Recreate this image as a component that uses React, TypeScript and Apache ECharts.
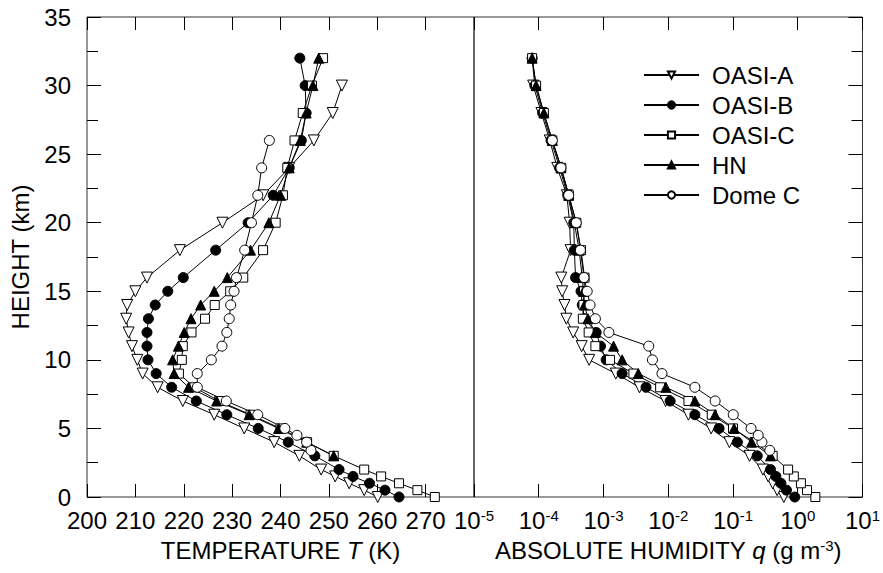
import React, { useEffect, useRef } from "react";
import * as echarts from "echarts";

// Heights (km)
const hOASI = [0, 0.5, 1, 1.5, 2, 3, 4, 5, 6, 7, 8, 9, 10, 11, 12, 13, 14, 15, 16, 18, 20, 22, 24, 26, 28, 30, 32];
const hOASIA = [0, 0.5, 1, 1.5, 2, 3, 4, 5, 6, 7, 8, 9, 10, 11, 12, 13, 14, 15, 16, 18, 20, 22, 24, 26, 28, 30];
const hHN = [3, 4, 5, 6, 7, 8, 9, 10, 11, 12, 13, 14, 15, 16, 18, 20, 22, 24, 26, 28, 30, 32];
const hDome = [3.4, 4, 4.5, 5, 6, 7, 8, 9, 10, 11, 12, 13, 14, 15, 16, 18, 20, 22, 24, 26];

// Temperature (K)
const tOASIA = [260.1, 257.3, 254.2, 251.3, 248.4, 243.9, 238.7, 232.5, 226.3, 219.8, 214.6, 211.5, 210.4, 209.3, 208.6, 208.1, 208.3, 210.0, 212.4, 219.2, 228.0, 236.4, 241.8, 246.9, 250.8, 252.7];
const tOASIB = [264.5, 261.6, 258.4, 255.0, 252.1, 247.1, 241.6, 235.4, 228.9, 222.6, 217.5, 214.3, 212.6, 212.4, 212.4, 212.7, 214.1, 216.7, 219.9, 226.6, 233.3, 238.5, 241.8, 244.3, 245.3, 245.1, 244.0];
const tOASIC = [271.9, 268.3, 264.5, 260.8, 257.3, 251.0, 245.5, 240.0, 233.8, 227.3, 222.2, 219.0, 219.6, 219.8, 221.6, 224.4, 226.4, 229.6, 232.3, 236.4, 239.0, 240.5, 241.4, 242.9, 244.6, 246.5, 248.8];
const tHN = [251.0, 245.4, 239.6, 233.5, 226.8, 221.0, 218.0, 217.7, 218.9, 220.1, 221.5, 223.5, 226.3, 229.0, 233.8, 237.6, 240.0, 241.8, 244.1, 245.3, 246.7, 247.9];
const tDome = [246.3, 245.4, 243.4, 240.9, 235.3, 228.8, 222.8, 222.8, 225.7, 227.9, 228.9, 229.4, 229.7, 230.4, 230.9, 232.6, 234.0, 235.3, 236.1, 237.7];

// Absolute humidity (g m^-3)
const qOASIA = [0.61, 0.48, 0.41, 0.35, 0.29, 0.18, 0.088, 0.046, 0.0205, 0.0091, 0.0036, 0.00155, 6.0e-4, 4.6e-4, 3.4e-4, 2.67e-4, 2.5e-4, 2.3e-4, 2.23e-4, 3.1e-4, 3.0e-4, 2.72e-4, 1.93e-4, 1.48e-4, 1.1e-4, 8.2e-5];
const qOASIB = [0.9, 0.67, 0.55, 0.46, 0.38, 0.237, 0.117, 0.061, 0.0258, 0.0107, 0.00454, 0.00194, 0.0011, 9.0e-4, 7.7e-4, 5.1e-4, 4.7e-4, 4.5e-4, 3.7e-4, 3.55e-4, 3.47e-4, 2.8e-4, 2.1e-4, 1.55e-4, 1.15e-4, 8.7e-5, 7.9e-5];
const qOASIC = [1.87, 1.39, 1.12, 0.87, 0.71, 0.41, 0.214, 0.1, 0.047, 0.0205, 0.0075, 0.0029, 0.00126, 7.5e-4, 5.9e-4, 4.8e-4, 4.9e-4, 5.0e-4, 5.1e-4, 4.5e-4, 3.8e-4, 2.92e-4, 2.23e-4, 1.62e-4, 1.2e-4, 9.1e-5, 7.9e-5];
const qHN = [0.38, 0.194, 0.104, 0.053, 0.0258, 0.0092, 0.00345, 0.00194, 0.00143, 7.5e-4, 5.75e-4, 5.1e-4, 4.9e-4, 4.7e-4, 4.2e-4, 3.55e-4, 2.9e-4, 2.2e-4, 1.62e-4, 1.2e-4, 9.1e-5, 7.9e-5];
const qDome = [0.37, 0.28, 0.245, 0.19, 0.101, 0.053, 0.0258, 0.008, 0.0057, 0.005, 0.00121, 7.5e-4, 6.2e-4, 5.6e-4, 5.0e-4, 4.4e-4, 3.8e-4, 2.9e-4, 2.2e-4, 1.62e-4];

const seriesNames = ["OASI-A", "OASI-B", "OASI-C", "HN", "Dome C"];
const tempTicks = [200, 210, 220, 230, 240, 250, 260, 270, 280];

const FONT = "'Liberation Sans', Arial, Helvetica, sans-serif";

const styles: Record<string, any> = {
  "OASI-A": { symbol: "triangle", symbolRotate: 180, symbolSize: 11, fill: "#fff" },
  "OASI-B": { symbol: "circle", symbolRotate: 0, symbolSize: 10, fill: "#000" },
  "OASI-C": { symbol: "rect", symbolRotate: 0, symbolSize: 9, fill: "#fff" },
  HN: { symbol: "triangle", symbolRotate: 0, symbolSize: 10, fill: "#000" },
  "Dome C": { symbol: "circle", symbolRotate: 0, symbolSize: 10, fill: "#fff" },
};

function pairs(xs: number[], hs: number[]) {
  return xs.map((x, i) => [x, hs[i]]);
}

function mk(name: string, data: number[][], idx: number) {
  const s = styles[name];
  return {
    name,
    type: "line",
    xAxisIndex: idx === 0 ? 0 : 2,
    yAxisIndex: idx,
    data,
    symbol: s.symbol,
    symbolRotate: s.symbolRotate,
    symbolSize: s.symbolSize,
    showAllSymbol: true,
    clip: false,
    lineStyle: { color: "#000", width: 1 },
    itemStyle: { color: s.fill, borderColor: "#000", borderWidth: 1 },
    emphasis: { disabled: true },
  };
}

export default function App() {
  const ref = useRef<HTMLDivElement>(null);
  useEffect(() => {
    if (!ref.current) return;
    const chart = echarts.init(ref.current, undefined, { renderer: "svg" });
    const labelBase = { fontSize: 24, color: "#000", fontFamily: FONT };
    const tickStyle = { show: true, inside: true, length: 13, lineStyle: { color: "#000", width: 1 } };
    const option: any = {
      animation: false,
      backgroundColor: "#fff",
      textStyle: { fontFamily: FONT },
      grid: [
        { left: 87, top: 17, width: 387, height: 480, show: true, borderColor: "#333", borderWidth: 1, backgroundColor: "transparent" },
        { left: 474, top: 17, width: 390, height: 480, show: true, borderColor: "#333", borderWidth: 1, backgroundColor: "transparent" },
      ],
      legend: {
        orient: "vertical",
        left: 643,
        top: 63,
        padding: 0,
        itemGap: 6,
        itemWidth: 55,
        itemHeight: 9,
        data: seriesNames,
        textStyle: { fontSize: 24, color: "#000", fontFamily: FONT, lineHeight: 24, padding: [0, 0, 0, 8] },
        selectedMode: false,
      },
      xAxis: [
        {
          gridIndex: 0, type: "value", min: 200, max: 280, interval: 10, position: "bottom",
          axisLine: { show: false }, splitLine: { show: false }, axisTick: tickStyle,
          axisLabel: { ...labelBase, margin: 11, formatter: (v: number) => (v === tempTicks[tempTicks.length - 1] ? "" : String(v)) },
          name: "TEMPERATURE {i|T} (K)", nameLocation: "middle", nameGap: 41,
          nameTextStyle: { ...labelBase, rich: { i: { ...labelBase, fontStyle: "italic" } } },
        },
        {
          gridIndex: 0, type: "value", min: 200, max: 280, interval: 10, position: "top",
          axisLine: { show: false }, splitLine: { show: false }, axisTick: tickStyle, axisLabel: { show: false },
        },
        {
          gridIndex: 1, type: "log", logBase: 10, min: 1e-5, max: 10, interval: 1, position: "bottom",
          axisLine: { show: false }, splitLine: { show: false }, axisTick: tickStyle,
          axisLabel: {
            ...labelBase, margin: 11,
            formatter: (v: number) => "10{s|" + Math.round(Math.log10(v)) + "}",
            rich: { s: { fontSize: 15, color: "#000", fontFamily: FONT, verticalAlign: "top" } },
          },
          name: "ABSOLUTE HUMIDITY {i|q} (g m{s|-3})", nameLocation: "middle", nameGap: 41,
          nameTextStyle: {
            ...labelBase,
            rich: {
              i: { ...labelBase, fontStyle: "italic" },
              s: { fontSize: 15, color: "#000", fontFamily: FONT, verticalAlign: "top" },
            },
          },
        },
        {
          gridIndex: 1, type: "log", logBase: 10, min: 1e-5, max: 10, interval: 1, position: "top",
          axisLine: { show: false }, splitLine: { show: false }, axisTick: tickStyle, axisLabel: { show: false },
        },
      ],
      yAxis: [
        {
          gridIndex: 0, type: "value", min: 0, max: 35, interval: 5, position: "left",
          axisLine: { show: false }, splitLine: { show: false },
          axisTick: { ...tickStyle, length: 14 },
          minorTick: { show: true, splitNumber: 2, length: 11, lineStyle: { color: "#000", width: 1 } },
          axisLabel: { ...labelBase, margin: 16 },
          name: "HEIGHT (km)", nameLocation: "middle", nameGap: 55, nameRotate: 90,
          nameTextStyle: { ...labelBase },
        },
        {
          gridIndex: 1, type: "value", min: 0, max: 35, interval: 5, position: "right",
          axisLine: { show: false }, splitLine: { show: false },
          axisTick: { ...tickStyle, length: 14 },
          minorTick: { show: true, splitNumber: 2, length: 11, lineStyle: { color: "#000", width: 1 } },
          axisLabel: { show: false },
        },
      ],
      series: [
        mk("OASI-A", pairs(tOASIA, hOASIA), 0),
        mk("OASI-B", pairs(tOASIB, hOASI), 0),
        mk("OASI-C", pairs(tOASIC, hOASI), 0),
        mk("HN", pairs(tHN, hHN), 0),
        mk("Dome C", pairs(tDome, hDome), 0),
        mk("OASI-A", pairs(qOASIA, hOASIA), 1),
        mk("OASI-B", pairs(qOASIB, hOASI), 1),
        mk("OASI-C", pairs(qOASIC, hOASI), 1),
        mk("HN", pairs(qHN, hHN), 1),
        mk("Dome C", pairs(qDome, hDome), 1),
      ],
    };
    chart.setOption(option);
    return () => chart.dispose();
  }, []);
  return <div ref={ref} style={{ position: "absolute", left: 0, top: 0, width: 883, height: 573 }} />;
}
